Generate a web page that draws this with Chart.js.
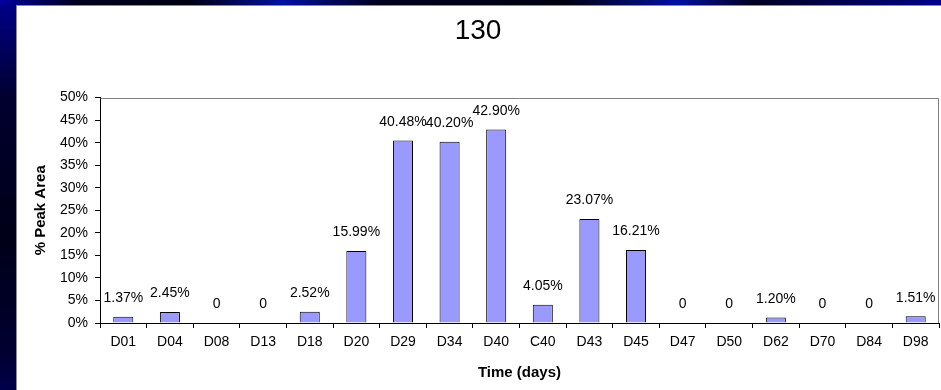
<!DOCTYPE html>
<html>
<head>
<meta charset="utf-8">
<script src="https://cdn.jsdelivr.net/npm/chart.js@4/dist/chart.umd.min.js"></script>
<style>
  html, body { margin: 0; padding: 0; }
  body { width: 941px; height: 390px; overflow: hidden; position: relative;
         background: linear-gradient(180deg, #00008a 0%, #000030 25%, #000018 60%, #000030 90%, #00004a 100%); }
  #topstrip { position: absolute; left: 0; top: 0; width: 941px; height: 5px;
    background: linear-gradient(90deg, #0000a0 0%, #000020 8%, #000010 20%, #0010a0 30%, #000020 40%, #000010 60%, #0010a0 72%, #000020 80%, #00008a 100%); }
  #panel { position: absolute; left: 16px; top: 5px; width: 925px; height: 385px;
    border-left: 1px solid #8a8a9a; border-top: 1px solid #8a8a9a; background: #ffffff; box-sizing: border-box; }
  #c { position: absolute; left: 0; top: 0; }
</style>
</head>
<body>
<div id="topstrip"></div>
<div id="panel"><canvas id="c" width="924" height="384"></canvas></div>
<script>
const titleText = '130';
const categories = ['D01','D04','D08','D13','D18','D20','D29','D34','D40','C40','D43','D45','D47','D50','D62','D70','D84','D98'];
const peakArea = [1.37, 2.45, 0, 0, 2.52, 15.99, 40.48, 40.20, 42.90, 4.05, 23.07, 16.21, 0, 0, 1.20, 0, 0, 1.51];
const yTicks = [0, 5, 10, 15, 20, 25, 30, 35, 40, 45, 50];
const xTitle = 'Time (days)';
const yTitle = '% Peak Area';

const FONT = "'Liberation Sans', Arial, sans-serif";

const labelPlugin = {
  id: 'valueLabels',
  afterDatasetsDraw(chart) {
    const ctx = chart.ctx;
    const meta = chart.getDatasetMeta(0);
    ctx.save();
    ctx.font = '14px ' + FONT;
    ctx.fillStyle = '#000';
    ctx.textAlign = 'center';
    ctx.textBaseline = 'middle';
    meta.data.forEach((bar, i) => {
      const v = chart.data.datasets[0].data[i];
      const txt = v === 0 ? '0' : v.toFixed(2) + '%';
      ctx.fillText(txt, bar.x, bar.y - 18.5);
    });
    ctx.restore();
  }
};

const framePlugin = {
  id: 'plotFrame',
  afterDraw(chart) {
    const a = chart.chartArea, ctx = chart.ctx;
    ctx.save();
    ctx.strokeStyle = '#808080';
    ctx.lineWidth = 1;
    ctx.beginPath();
    ctx.moveTo(Math.round(a.left) + 0.5, Math.round(a.top) + 0.5);
    ctx.lineTo(Math.round(a.right) - 0.5, Math.round(a.top) + 0.5);
    ctx.lineTo(Math.round(a.right) - 0.5, Math.round(a.bottom));
    ctx.stroke();
    ctx.restore();
  }
};

new Chart(document.getElementById('c'), {
  type: 'bar',
  data: {
    labels: categories,
    datasets: [{
      data: peakArea,
      backgroundColor: '#9999FF',
      borderColor: '#000000',
      borderWidth: 1,
      barPercentage: 0.43,
      categoryPercentage: 1.0
    }]
  },
  options: {
    responsive: false,
    devicePixelRatio: 1,
    animation: false,
    layout: { padding: { left: 0, right: 2, top: 0, bottom: 0 } },
    plugins: {
      legend: { display: false },
      tooltip: { enabled: false },
      title: {
        display: true,
        text: titleText,
        color: '#000',
        font: { family: FONT, size: 28, weight: 'normal' },
        padding: { top: 8, bottom: 50 }
      }
    },
    scales: {
      x: {
        grid: { display: true, drawOnChartArea: false, drawTicks: true, tickLength: 5, color: '#000', offset: true },
        border: { display: true, color: '#000', width: 1 },
        ticks: { color: '#000', font: { family: FONT, size: 14 }, padding: 6, maxRotation: 0, autoSkip: false },
        title: { display: true, text: xTitle, color: '#000', font: { family: FONT, size: 15, weight: 'bold' }, padding: { top: 0, bottom: 8 } },
        afterFit(scale) { scale.height = 67; }
      },
      y: {
        min: 0,
        max: 50,
        afterBuildTicks(scale) { scale.ticks = yTicks.map(v => ({ value: v })); },
        grid: { display: true, drawOnChartArea: false, drawTicks: true, tickLength: 5, color: '#000' },
        border: { display: true, color: '#000', width: 1 },
        ticks: { color: '#000', font: { family: FONT, size: 14 }, padding: 7, callback: v => v + '%' },
        title: { display: true, text: yTitle, color: '#000', font: { family: FONT, size: 15, weight: 'bold' }, padding: { top: 14.5, bottom: 0 } },
        afterFit(scale) { scale.width = 83; }
      }
    }
  },
  plugins: [labelPlugin, framePlugin]
});
</script>
</body>
</html>
